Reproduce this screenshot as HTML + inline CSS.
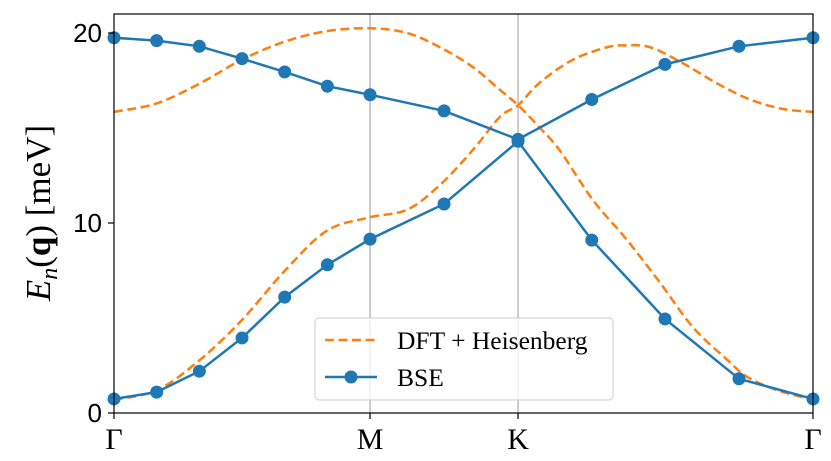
<!DOCTYPE html>
<html><head><meta charset="utf-8"><style>
html,body{margin:0;padding:0;background:#fff;}
svg{display:block;}
</style></head><body>
<svg id="chart" width="831" height="461" xmlns="http://www.w3.org/2000/svg">
<g id="grid"></g>
<g id="series"></g>
<rect x="114" y="14" width="699" height="399" fill="none" stroke="#000" stroke-width="1.2"/>
<g id="axes"></g>
<text transform="translate(50,213) rotate(-90)" text-anchor="middle" font-family="Liberation Serif, serif" font-size="35" fill="#000"><tspan font-style="italic">E</tspan><tspan font-style="italic" font-size="24" dy="7">n</tspan><tspan dy="-7">(</tspan><tspan font-weight="bold">q</tspan><tspan>) [meV]</tspan></text>
<g>
<rect x="315" y="318" width="298" height="82" rx="4" fill="#fff" fill-opacity="0.8" stroke="#ccc" stroke-width="1"/>
<line x1="325" y1="340" x2="377" y2="340" stroke="#ff7f0e" stroke-width="2.5" stroke-dasharray="9,4.5"/>
<text x="397" y="349" font-family="Liberation Serif, serif" font-size="25.5" fill="#000">DFT + Heisenberg</text>
<line x1="325" y1="377" x2="377" y2="377" stroke="#1f77b4" stroke-width="2.5"/>
<circle cx="351" cy="377" r="6.5" fill="#1f77b4"/>
<text x="397" y="386" font-family="Liberation Serif, serif" font-size="25.5" fill="#000">BSE</text>
</g>
</svg>
<script>
// Path coordinate: Γ=0, M=1, K=1.578, Γ=2.73
const kLabels = ["Γ","M","K","Γ"];
const kPositions = [0, 1, 1.578, 2.73];
const yTicks = [0, 10, 20];
const bseK = [0,1/6,2/6,3/6,4/6,5/6,1,1.289,1.578,1.866,2.152,2.441,2.73];
const bseLower = [0.74,1.1,2.2,3.95,6.1,7.8,9.15,11.0,14.3,9.1,4.95,1.8,0.74];
const bseUpper = [19.75,19.6,19.3,18.65,17.95,17.2,16.75,15.9,14.4,16.5,18.35,19.3,19.75];
// DFT branches cross at K: branch A goes low→high, branch B high→low
const dftAK = [0,0.168,0.336,0.5,0.668,0.832,1,1.145,1.273,1.402,1.508,1.578,1.664,1.793,1.926,1.996,2.094,2.223,2.355,2.484,2.613,2.73];
const dftA = [0.7,1.2,2.8,4.9,7.5,9.6,10.3,10.7,12.0,13.85,15.6,16.2,17.4,18.6,19.25,19.35,19.25,18.4,17.35,16.5,16.0,15.85];
const dftBK = [0,0.168,0.336,0.5,0.668,0.832,1,1.145,1.273,1.402,1.508,1.578,1.664,1.742,1.871,2.004,2.133,2.262,2.395,2.473,2.59,2.73];
const dftB = [15.85,16.3,17.35,18.6,19.55,20.1,20.25,20.0,19.25,18.2,17.0,16.2,15.0,13.8,11.2,9.1,6.85,4.5,2.8,1.9,1.2,0.7];

const X0=114, X1=813, Y0=413, Y1=14;
const kMax=2.73, yPerUnit=19;
const xs = k => X0 + k/kMax*(X1-X0);
const ys = v => Y0 - v*yPerUnit;
const NS="http://www.w3.org/2000/svg";
function mk(tag, attrs, parent){const e=document.createElementNS(NS,tag);for(const a in attrs)e.setAttribute(a,attrs[a]);parent.appendChild(e);return e;}
const grid=document.getElementById('grid'), series=document.getElementById('series'), axes=document.getElementById('axes');

[1,2].forEach(i=>{
  const l=mk('line',{x1:xs(kPositions[i]),x2:xs(kPositions[i]),y1:Y1,y2:Y0,stroke:'#999','stroke-width':1},grid);
  
  
});

function smoothPath(kk,vv){
  const p=kk.map((k,i)=>[xs(k),ys(vv[i])]);
  let d='M'+p[0][0]+','+p[0][1];
  for(let i=0;i<p.length-1;i++){
    const p0=p[Math.max(0,i-1)],p1=p[i],p2=p[i+1],p3=p[Math.min(p.length-1,i+2)];
    const c1=[p1[0]+(p2[0]-p0[0])/6,p1[1]+(p2[1]-p0[1])/6];
    const c2=[p2[0]-(p3[0]-p1[0])/6,p2[1]-(p3[1]-p1[1])/6];
    d+=' C'+c1[0]+','+c1[1]+' '+c2[0]+','+c2[1]+' '+p2[0]+','+p2[1];
  }
  return d;
}
const d1=mk('path',{d:smoothPath(dftAK,dftA),fill:'none',stroke:'#ff7f0e','stroke-width':2.5,'stroke-dasharray':'9,4.5'},series);


const d2=mk('path',{d:smoothPath(dftBK,dftB),fill:'none',stroke:'#ff7f0e','stroke-width':2.5,'stroke-dasharray':'9,4.5'},series);



[[bseLower,'bse-lower'],[bseUpper,'bse-upper']].forEach(([vals,name])=>{
  const pl=mk('polyline',{points:bseK.map((k,i)=>xs(k)+','+ys(vals[i])).join(' '),fill:'none',stroke:'#1f77b4','stroke-width':2.5},series);
  
  
  bseK.forEach((k,i)=>{
    const c=mk('circle',{cx:xs(k),cy:ys(vals[i]),r:6.5,fill:'#1f77b4'},series);
    
    
  });
});

yTicks.forEach(v=>{
  const t=mk('line',{x1:X0-6,x2:X0,y1:ys(v),y2:ys(v),stroke:'#000','stroke-width':1.2},axes);
  
  
  const tx=mk('text',{x:X0-12,y:ys(v)+9,'text-anchor':'end','font-family':'Liberation Sans, sans-serif','font-size':26,fill:'#000'},axes);
  tx.textContent=v;
  
  
});
kPositions.forEach((k,i)=>{
  const t=mk('line',{x1:xs(k),x2:xs(k),y1:Y0,y2:Y0+6,stroke:'#000','stroke-width':1.2},axes);
  
  
  const tx=mk('text',{x:xs(k),y:449,'text-anchor':'middle','font-family':'Liberation Serif, serif','font-size':30,fill:'#000'},axes);
  tx.textContent=kLabels[i];
  
  
});
</script>
</body></html>
